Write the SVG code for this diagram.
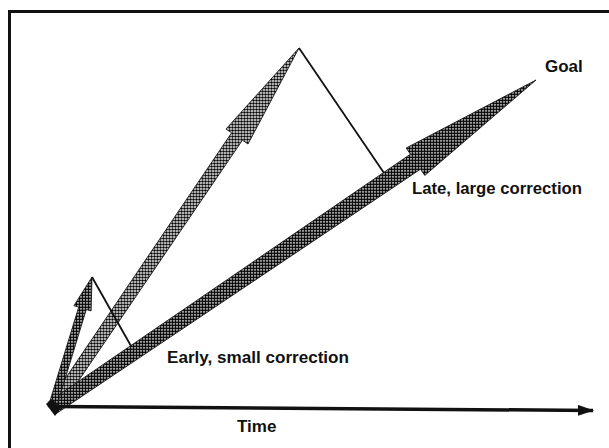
<svg xmlns="http://www.w3.org/2000/svg" width="609" height="448" viewBox="0 0 609 448">
  <style>
    .lbl { font-family: "Liberation Sans", Arial, Helvetica, sans-serif; font-weight: bold; font-size: 17px; fill: #111; }
    .arrow { stroke: #1a1a1a; stroke-width: 0.9; stroke-linejoin: miter; }
    .corr { fill: none; stroke: #111; stroke-width: 1.8; }
  </style>
  <defs>
    <pattern id="dotsDark" width="3" height="3" patternUnits="userSpaceOnUse">
      <rect width="3" height="3" fill="#ffffff"/>
      <circle cx="1.5" cy="1.5" r="1.45" fill="#000"/>
    </pattern>
    <pattern id="dotsMid" width="3" height="3" patternUnits="userSpaceOnUse">
      <rect width="3" height="3" fill="#ffffff"/>
      <circle cx="1.5" cy="1.5" r="1.3" fill="#000"/>
    </pattern>
    <marker id="axisHead" viewBox="0 0 16 11" refX="15" refY="5.5" markerWidth="16" markerHeight="11" markerUnits="userSpaceOnUse" orient="auto">
      <path d="M0,0 L16,5.5 L0,11 Z" fill="#111"/>
    </marker>
  </defs>

  <rect x="0" y="0" width="609" height="448" fill="#fff"/>
  <!-- frame (right and bottom edges fall outside the picture) -->
  <path d="M9.5,460 L9.5,11.5 L620,11.5" fill="none" stroke="#111" stroke-width="3"/>

  <g id="arrow-overshoot">
    <polygon class="arrow" fill="url(#dotsMid)" points="49,402.6 231.6,132.8 226,129 299,48 248,144 242.4,140.2 59,409.4"/>
  </g>

  <g id="arrow-goal">
    <polygon class="arrow" fill="url(#dotsDark)" points="48.1,402.2 410.4,154.2 406.2,148 536,80 424.8,175.4 420.5,169.2 55.9,413.8"/>
  </g>

  <g id="arrow-early">
    <polygon class="arrow" fill="url(#dotsDark)" points="48.2,406.8 78.7,307.1 73.9,305.7 92,277 91.1,310.9 86.3,309.5 55.8,409.2"/>
  </g>

  <g id="origin">
    <polygon points="46,404 52,399 61,408 55,416" fill="#111"/>
  </g>

  <g id="connectors">
    <line id="time-axis" x1="56" y1="406.5" x2="593" y2="410.5" stroke="#111" stroke-width="3.5" marker-end="url(#axisHead)"/>
    <line id="early-correction" class="corr" x1="92" y1="277" x2="131" y2="346"/>
    <line id="late-correction" class="corr" x1="299" y1="48" x2="384" y2="173"/>
  </g>

  <g id="label-goal"><text class="lbl" x="545" y="72">Goal</text></g>
  <g id="label-late"><text class="lbl" x="412" y="194" textLength="170" lengthAdjust="spacingAndGlyphs">Late, large correction</text></g>
  <g id="label-early"><text class="lbl" x="167" y="363" textLength="182" lengthAdjust="spacingAndGlyphs">Early, small correction</text></g>
  <g id="label-time"><text class="lbl" x="237" y="432">Time</text></g>
</svg>
